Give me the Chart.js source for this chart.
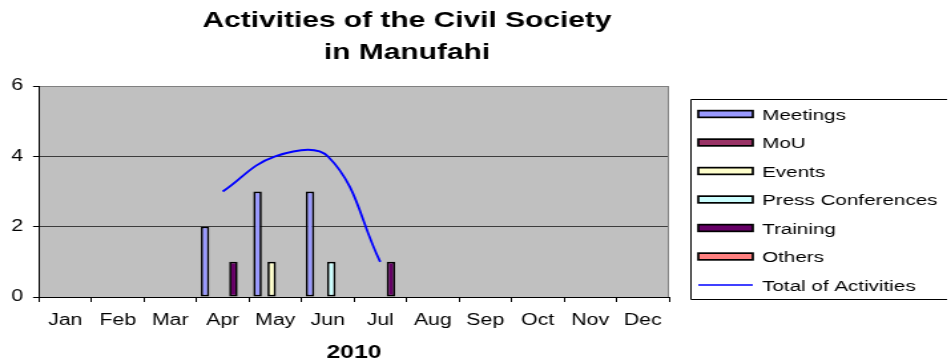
<!DOCTYPE html>
<html>
<head>
<meta charset="utf-8">
<title>Activities of the Civil Society in Manufahi</title>
<script src="https://cdn.jsdelivr.net/npm/chart.js@4.4.1/dist/chart.umd.min.js"></script>
<style>
  html, body { margin: 0; padding: 0; background: #fff; overflow: hidden; }
  /* The chart is laid out on a 715px-wide canvas and widened to the 951px page. */
  #wrap { width: 715px; height: 362px; transform: scaleX(1.33007); transform-origin: 0 0; }
  canvas { display: block; }
</style>
</head>
<body>
<div id="wrap"><canvas id="chart" width="715" height="362"></canvas></div>
<script>
// Months of 2010
const months = ['Jan', 'Feb', 'Mar', 'Apr', 'May', 'Jun', 'Jul', 'Aug', 'Sep', 'Oct', 'Nov', 'Dec'];

// Activities per month, by type (empty months left blank)
const meetings          = [null, null, null, 2, 3, 3, null, null, null, null, null, null];
const mou               = [null, null, null, null, null, null, null, null, null, null, null, null];
const events            = [null, null, null, null, 1, null, null, null, null, null, null, null];
const pressConferences  = [null, null, null, null, null, 1, null, null, null, null, null, null];
const training          = [null, null, null, 1, null, null, 1, null, null, null, null, null];
const others            = [null, null, null, null, null, null, null, null, null, null, null, null];
const totalActivities   = [null, null, null, 3, 4, 4, 1, null, null, null, null, null];

// Value axis
const yTicks = [0, 2, 4, 6];

const titleLines = ['Activities of the Civil Society', 'in Manufahi'];
const xAxisTitle = '2010';

const FONT = "Arial, 'Liberation Sans', Helvetica, sans-serif";
Chart.defaults.font.family = FONT;
Chart.defaults.color = '#000';

function barSet(label, data, fill) {
  return {
    type: 'bar', label, data,
    backgroundColor: fill, borderColor: '#000', borderWidth: 1.7,
    borderSkipped: false,
    categoryPercentage: 0.81, barPercentage: 1.2
  };
}

// Grey plot area and its right frame
const plotFrame = {
  id: 'plotFrame',
  beforeDraw(chart) {
    const { ctx, chartArea: a } = chart;
    ctx.save();
    ctx.fillStyle = '#C0C0C0';
    ctx.fillRect(a.left, a.top, a.right - a.left, a.bottom - a.top);
    ctx.restore();
  },
  afterDatasetsDraw(chart) {
    const { ctx, chartArea: a } = chart;
    ctx.save();
    ctx.strokeStyle = '#808080';
    ctx.lineWidth = 1;
    ctx.beginPath();
    ctx.moveTo(Math.round(a.right) - 0.5, a.top);
    ctx.lineTo(Math.round(a.right) - 0.5, a.bottom);
    ctx.stroke();
    ctx.restore();
  }
};

// Two-line chart heading
const heading = {
  id: 'heading',
  afterDraw(chart) {
    const ctx = chart.ctx;
    ctx.save();
    ctx.fillStyle = '#000';
    ctx.font = 'bold 22.5px ' + FONT;
    ctx.textAlign = 'center';
    ctx.textBaseline = 'alphabetic';
    ctx.fillText(titleLines[0], 306, 26.5);
    ctx.fillText(titleLines[1], 306, 59);
    ctx.restore();
  }
};

// Legend frame: open on the right, where it runs off the page
const sideLegend = {
  id: 'sideLegend',
  afterDraw(chart) {
    const ctx = chart.ctx;
    const boxLeft = 519.5, boxTop = 99.5, boxBottom = 299.5, boxRight = 712;
    const rowTop = 114, rowStep = 28.5;
    const swX = 525, swW = 41, swH = 6.7;
    const textX = 573;
    ctx.save();
    ctx.strokeStyle = '#000';
    ctx.lineWidth = 1;
    ctx.beginPath();
    ctx.moveTo(boxRight, boxTop);
    ctx.lineTo(boxLeft, boxTop);
    ctx.lineTo(boxLeft, boxBottom);
    ctx.lineTo(boxRight, boxBottom);
    ctx.stroke();
    ctx.font = '15.5px ' + FONT;
    ctx.textAlign = 'left';
    ctx.textBaseline = 'alphabetic';
    chart.data.datasets.forEach((ds, i) => {
      const cy = rowTop + i * rowStep;
      if (ds.type === 'line') {
        ctx.strokeStyle = ds.borderColor;
        ctx.lineWidth = 1.6;
        ctx.beginPath();
        ctx.moveTo(swX, cy);
        ctx.lineTo(swX + swW, cy);
        ctx.stroke();
      } else {
        ctx.fillStyle = ds.backgroundColor;
        ctx.fillRect(swX, cy - swH / 2, swW, swH);
        ctx.strokeStyle = '#000';
        ctx.lineWidth = 1.7;
        ctx.strokeRect(swX, cy - swH / 2, swW, swH);
      }
      ctx.fillStyle = '#000';
      ctx.fillText(ds.label, textX, cy + 5.5);
    });
    ctx.restore();
  }
};

new Chart(document.getElementById('chart'), {
  data: {
    labels: months,
    datasets: [
      barSet('Meetings', meetings, '#9999FF'),
      barSet('MoU', mou, '#993366'),
      barSet('Events', events, '#FFFFCC'),
      barSet('Press Conferences', pressConferences, '#CCFFFF'),
      barSet('Training', training, '#660066'),
      barSet('Others', others, '#FF8080'),
      {
        type: 'line', label: 'Total of Activities', data: totalActivities,
        borderColor: '#0000FF', backgroundColor: '#0000FF', borderWidth: 1.8,
        tension: 0.4, pointRadius: 0, fill: false, order: -1
      }
    ]
  },
  options: {
    responsive: false,
    animation: false,
    events: [],
    layout: { padding: { top: 86, right: 212, left: 0, bottom: 0 } },
    plugins: { legend: { display: false }, title: { display: false }, tooltip: { enabled: false } },
    scales: {
      x: {
        type: 'category',
        offset: true,
        afterFit(scale) { scale.height = 65; },
        grid: { offset: true, drawOnChartArea: false, drawTicks: true, tickLength: 5, color: '#000', tickColor: '#000' },
        border: { color: '#000', width: 1 },
        ticks: { font: { size: 16 }, padding: 9, color: '#000', maxRotation: 0, autoSkip: false },
        title: { display: true, text: xAxisTitle, font: { size: 18.5, weight: 'bold', lineHeight: 1 }, padding: { top: 0, bottom: 0 }, color: '#000' }
      },
      y: {
        min: yTicks[0],
        max: yTicks[yTicks.length - 1],
        afterFit(scale) { scale.width = 29.3; },
        afterBuildTicks(scale) { scale.ticks = yTicks.map(v => ({ value: v })); },
        grid: {
          color: ctx => (ctx.tick && ctx.tick.value === yTicks[yTicks.length - 1]) ? '#808080' : '#3c3c3c',
          tickColor: '#000', tickLength: 4.5, lineWidth: 1
        },
        border: { color: '#000', width: 1 },
        ticks: { font: { size: 16 }, padding: 7.5, color: '#000' }
      }
    }
  },
  plugins: [plotFrame, heading, sideLegend]
});
</script>
</body>
</html>
